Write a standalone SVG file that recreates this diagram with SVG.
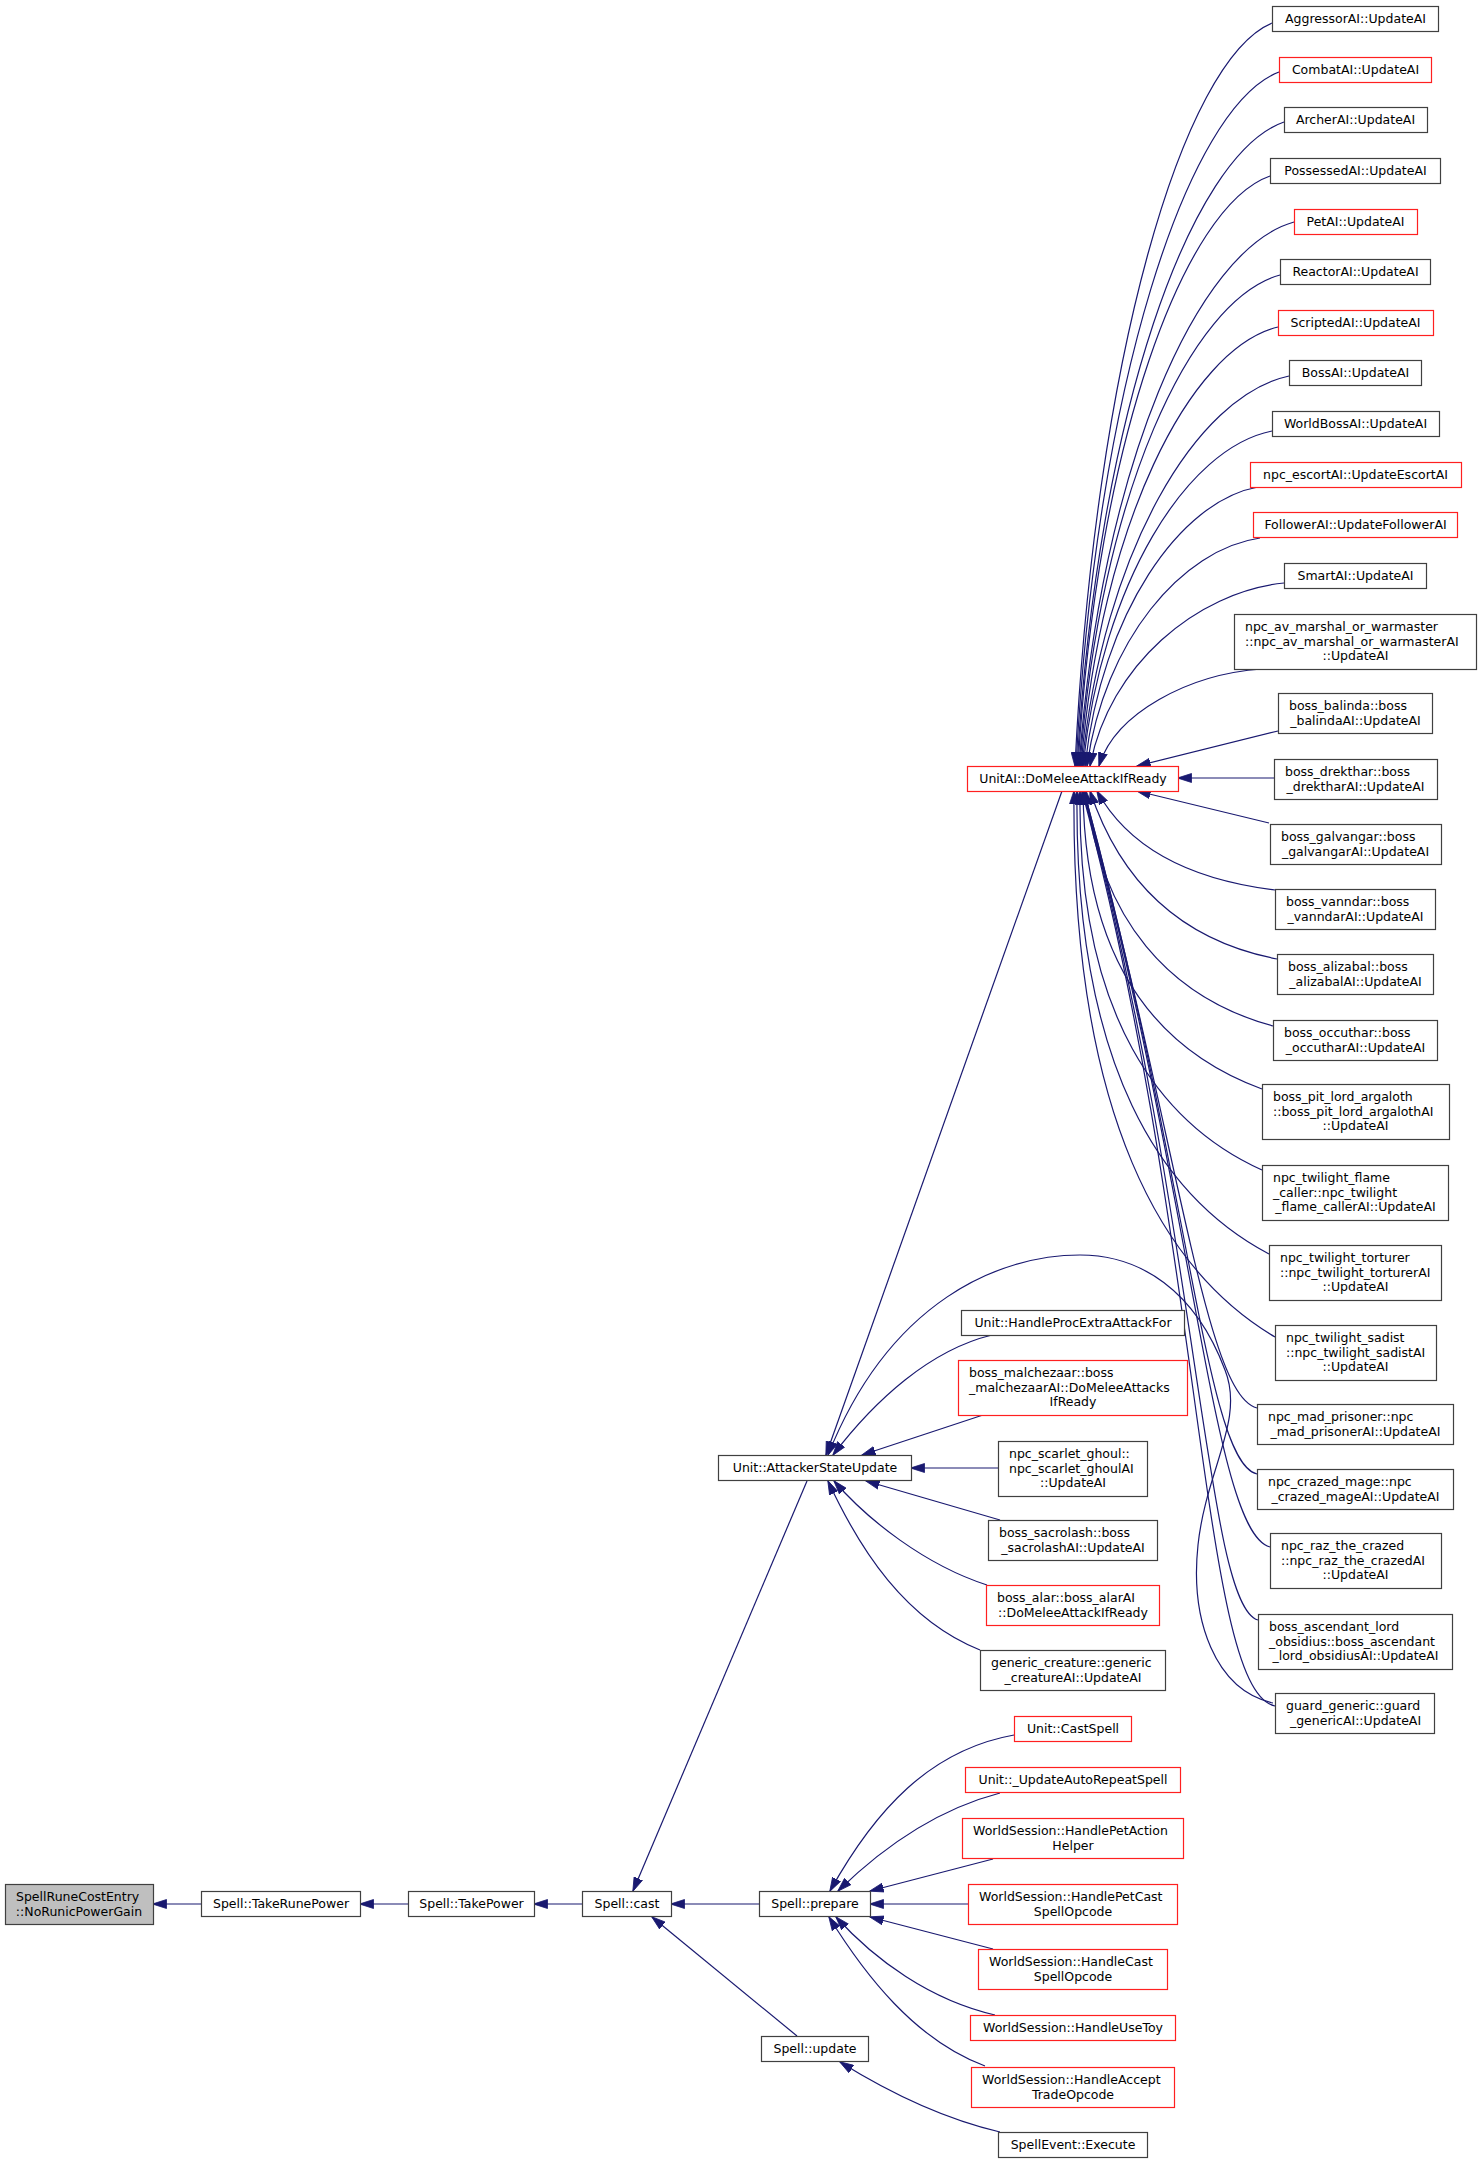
<svg xmlns="http://www.w3.org/2000/svg" width="1481" height="2164" viewBox="0 0 1481 2164">
<style>
.e{fill:none;stroke:#191970;stroke-width:1.2;marker-end:url(#ah)}
.nb rect{fill:#fff;stroke:#404040;stroke-width:1.2}
.nr rect{fill:#fff;stroke:#ff2020;stroke-width:1.2}
.ng rect{fill:#bfbfbf;stroke:#404040;stroke-width:1.2}
text{font-family:"DejaVu Sans","Liberation Sans",sans-serif;font-size:12.5px;fill:#000}
.c{text-anchor:middle}
.s{text-anchor:start}
</style>
<defs>
<marker id="ah" markerUnits="userSpaceOnUse" markerWidth="14" markerHeight="10" viewBox="0 0 14 10" refX="13.5" refY="5" orient="auto">
<path d="M0,0.5 L14,5 L0,9.5 z" fill="#191970" stroke="#191970" stroke-width="0.8"/>
</marker>
</defs>
<rect x="0" y="0" width="1481" height="2164" fill="#fff"/>

<g id="edges">
<path class="e" d="M1272,23 C1183,60 1095,357 1075,766"/>
<path class="e" d="M1279,72 C1188,107 1096,384 1076,766"/>
<path class="e" d="M1284,122 C1191,154 1098,412 1077,766"/>
<path class="e" d="M1270,176 C1184,206 1097,442 1078,766"/>
<path class="e" d="M1294,222 C1197,249 1101,467 1079,766"/>
<path class="e" d="M1280,275 C1190,300 1100,496 1080,766"/>
<path class="e" d="M1278,327 C1189,349 1101,525 1081,766"/>
<path class="e" d="M1289,376 C1196,396 1103,552 1082,766"/>
<path class="e" d="M1272,431 C1187,448 1102,582 1083,766"/>
<path class="e" d="M1258,487 C1180,501 1102,613 1085,766"/>
<path class="e" d="M1260,538 C1182,549 1104,641 1087,766"/>
<path class="e" d="M1284,583 C1197,592 1109,665 1090,766"/>
<path class="e" d="M1262,669 C1189,674 1115,713 1099,766"/>
<path class="e" d="M1278,731 L1137,766"/>
<path class="e" d="M1274,778 L1178,778"/>
<path class="e" d="M1269,823 L1137,791"/>
<path class="e" d="M1275,890 C1177,878 1124,840 1097,791"/>
<path class="e" d="M1277,959 C1174,939 1118,875 1090,791"/>
<path class="e" d="M1273,1026 C1170,998 1100,920 1086,791"/>
<path class="e" d="M1262,1089 C1164,1053 1085,970 1083,791"/>
<path class="e" d="M1262,1170 C1162,1125 1077,1018 1080,791"/>
<path class="e" d="M1269,1254 C1163,1198 1074,1069 1077,791"/>
<path class="e" d="M1275,1337 C1165,1272 1071,1119 1074,791"/>
<path class="e" d="M1257,1408 C1205,1395 1180,1150 1084,791"/>
<path class="e" d="M1257,1474 C1205,1462 1190,1180 1084,791"/>
<path class="e" d="M1270,1547 C1212,1532 1195,1200 1083,791"/>
<path class="e" d="M1258,1620 C1205,1605 1200,1230 1083,791"/>
<path class="e" d="M1275,1706 C1200,1690 1205,1250 1082,791"/>
<path class="e" d="M1273,1703 C1215,1690 1190,1620 1198,1545 C1206,1470 1245,1420 1225,1370 C1195,1290 1140,1255 1080,1255 C1000,1255 890,1300 828,1455"/>
<path class="e" d="M1062,791 L826,1455"/>
<path class="e" d="M992,1335 C930,1350 875,1400 833,1455"/>
<path class="e" d="M983,1415 L862,1455"/>
<path class="e" d="M998,1468 L911,1468"/>
<path class="e" d="M1000,1520 L866,1481"/>
<path class="e" d="M987,1585 C925,1565 868,1520 834,1481"/>
<path class="e" d="M980,1650 C905,1620 860,1550 828,1481"/>
<path class="e" d="M807,1481 L633,1891"/>
<path class="e" d="M797,2036 L652,1917"/>
<path class="e" d="M1000,2132 C940,2118 885,2090 840,2062"/>
<path class="e" d="M1014,1735 C930,1750 875,1810 830,1891"/>
<path class="e" d="M1000,1793 C935,1810 880,1850 838,1891"/>
<path class="e" d="M993,1859 L870,1891"/>
<path class="e" d="M968,1904 L870,1904"/>
<path class="e" d="M993,1949 L870,1917"/>
<path class="e" d="M995,2015 C930,2000 875,1960 836,1917"/>
<path class="e" d="M985,2066 C915,2040 865,1975 829,1917"/>
<path class="e" d="M759,1904 L671,1904"/>
<path class="e" d="M582,1904 L534,1904"/>
<path class="e" d="M408,1904 L360,1904"/>
<path class="e" d="M201,1904 L153,1904"/>
</g>

<g id="n_root" class="ng"><rect x="5.5" y="1884.5" width="148" height="40"/><text class="s" x="16" y="1901">SpellRuneCostEntry</text><text class="c" x="79" y="1915.5">::NoRunicPowerGain</text></g>
<g id="n_takerunepower" class="nb"><rect x="201.5" y="1891.5" width="159" height="25"/><text class="c" x="281" y="1908.3">Spell::TakeRunePower</text></g>
<g id="n_takepower" class="nb"><rect x="408.5" y="1891.5" width="126" height="25"/><text class="c" x="471.5" y="1908.3">Spell::TakePower</text></g>
<g id="n_cast" class="nb"><rect x="582.5" y="1891.5" width="89" height="25"/><text class="c" x="627" y="1908.3">Spell::cast</text></g>

<g id="n_asu" class="nb"><rect x="718.5" y="1455.5" width="193" height="25"/><text class="c" x="815" y="1472.3">Unit::AttackerStateUpdate</text></g>
<g id="n_prepare" class="nb"><rect x="759.5" y="1891.5" width="111" height="25"/><text class="c" x="815" y="1908.3">Spell::prepare</text></g>
<g id="n_update" class="nb"><rect x="761.5" y="2036.5" width="107" height="25"/><text class="c" x="815" y="2053.3">Spell::update</text></g>

<g id="n_unitai" class="nr"><rect x="967.5" y="766.5" width="211" height="25"/><text class="c" x="1073" y="783.3">UnitAI::DoMeleeAttackIfReady</text></g>
<g id="n_procextra" class="nb"><rect x="961.5" y="1310.5" width="223" height="25"/><text class="c" x="1073" y="1327.3">Unit::HandleProcExtraAttackFor</text></g>
<g id="n_malchezaar" class="nr"><rect x="958.5" y="1360.5" width="229" height="55"/><text class="s" x="969" y="1377.3">boss_malchezaar::boss</text><text class="s" x="969" y="1391.8">_malchezaarAI::DoMeleeAttacks</text><text class="c" x="1073" y="1406.3">IfReady</text></g>
<g id="n_scarlet" class="nb"><rect x="998.5" y="1441.5" width="149" height="55"/><text class="s" x="1009" y="1458.3">npc_scarlet_ghoul::</text><text class="s" x="1009" y="1472.8">npc_scarlet_ghoulAI</text><text class="c" x="1073" y="1487.3">::UpdateAI</text></g>
<g id="n_sacrolash" class="nb"><rect x="988.5" y="1520.5" width="169" height="40"/><text class="s" x="999" y="1537">boss_sacrolash::boss</text><text class="c" x="1073" y="1551.5">_sacrolashAI::UpdateAI</text></g>
<g id="n_alar" class="nr"><rect x="986.5" y="1585.5" width="173" height="40"/><text class="s" x="997" y="1602">boss_alar::boss_alarAI</text><text class="c" x="1073" y="1616.5">::DoMeleeAttackIfReady</text></g>
<g id="n_generic" class="nb"><rect x="980.5" y="1650.5" width="185" height="40"/><text class="s" x="991" y="1667">generic_creature::generic</text><text class="c" x="1073" y="1681.5">_creatureAI::UpdateAI</text></g>
<g id="n_castspell" class="nr"><rect x="1014.5" y="1716.5" width="117" height="25"/><text class="c" x="1073" y="1733.3">Unit::CastSpell</text></g>
<g id="n_autorepeat" class="nr"><rect x="965.5" y="1767.5" width="215" height="25"/><text class="c" x="1073" y="1784.3">Unit::_UpdateAutoRepeatSpell</text></g>
<g id="n_petaction" class="nr"><rect x="962.5" y="1818.5" width="221" height="40"/><text class="s" x="973" y="1835.3">WorldSession::HandlePetAction</text><text class="c" x="1073" y="1849.8">Helper</text></g>
<g id="n_petcast" class="nr"><rect x="968.5" y="1884.5" width="209" height="40"/><text class="s" x="979" y="1901">WorldSession::HandlePetCast</text><text class="c" x="1073" y="1915.5">SpellOpcode</text></g>
<g id="n_castop" class="nr"><rect x="978.5" y="1949.5" width="189" height="40"/><text class="s" x="989" y="1966">WorldSession::HandleCast</text><text class="c" x="1073" y="1980.5">SpellOpcode</text></g>
<g id="n_usetoy" class="nr"><rect x="970.5" y="2015.5" width="205" height="25"/><text class="c" x="1073" y="2032.3">WorldSession::HandleUseToy</text></g>
<g id="n_accepttrade" class="nr"><rect x="971.5" y="2067.5" width="203" height="40"/><text class="s" x="982" y="2084">WorldSession::HandleAccept</text><text class="c" x="1073" y="2098.5">TradeOpcode</text></g>
<g id="n_spellevent" class="nb"><rect x="998.5" y="2132.5" width="149" height="25"/><text class="c" x="1073" y="2149.3">SpellEvent::Execute</text></g>

<g id="n_aggressor" class="nb"><rect x="1272.5" y="6.5" width="166" height="25"/><text class="c" x="1355.5" y="23.3">AggressorAI::UpdateAI</text></g>
<g id="n_combat" class="nr"><rect x="1279.5" y="57.5" width="152" height="25"/><text class="c" x="1355.5" y="74.3">CombatAI::UpdateAI</text></g>
<g id="n_archer" class="nb"><rect x="1284.5" y="107.5" width="143" height="25"/><text class="c" x="1355.5" y="124.3">ArcherAI::UpdateAI</text></g>
<g id="n_possessed" class="nb"><rect x="1270.5" y="158.5" width="170" height="25"/><text class="c" x="1355.5" y="175.3">PossessedAI::UpdateAI</text></g>
<g id="n_pet" class="nr"><rect x="1294.5" y="209.5" width="123" height="25"/><text class="c" x="1355.5" y="226.3">PetAI::UpdateAI</text></g>
<g id="n_reactor" class="nb"><rect x="1280.5" y="259.5" width="150" height="25"/><text class="c" x="1355.5" y="276.3">ReactorAI::UpdateAI</text></g>
<g id="n_scripted" class="nr"><rect x="1278.5" y="310.5" width="155" height="25"/><text class="c" x="1355.5" y="327.3">ScriptedAI::UpdateAI</text></g>
<g id="n_boss" class="nb"><rect x="1289.5" y="360.5" width="132" height="25"/><text class="c" x="1355.5" y="377.3">BossAI::UpdateAI</text></g>
<g id="n_worldboss" class="nb"><rect x="1272.5" y="411.5" width="167" height="25"/><text class="c" x="1355.5" y="428.3">WorldBossAI::UpdateAI</text></g>
<g id="n_escort" class="nr"><rect x="1250.5" y="462.5" width="211" height="25"/><text class="c" x="1355.5" y="479.3">npc_escortAI::UpdateEscortAI</text></g>
<g id="n_follower" class="nr"><rect x="1253.5" y="512.5" width="204" height="25"/><text class="c" x="1355.5" y="529.3">FollowerAI::UpdateFollowerAI</text></g>
<g id="n_smart" class="nb"><rect x="1284.5" y="563.5" width="142" height="25"/><text class="c" x="1355.5" y="580.3">SmartAI::UpdateAI</text></g>
<g id="n_avmarshal" class="nb"><rect x="1234.5" y="614.5" width="242" height="55"/><text class="s" x="1245" y="631.3">npc_av_marshal_or_warmaster</text><text class="s" x="1245" y="645.8">::npc_av_marshal_or_warmasterAI</text><text class="c" x="1355.5" y="660.3">::UpdateAI</text></g>
<g id="n_balinda" class="nb"><rect x="1278.5" y="693.5" width="154" height="40"/><text class="s" x="1289" y="710">boss_balinda::boss</text><text class="c" x="1355.5" y="724.5">_balindaAI::UpdateAI</text></g>
<g id="n_drekthar" class="nb"><rect x="1274.5" y="759.5" width="163" height="40"/><text class="s" x="1285" y="776">boss_drekthar::boss</text><text class="c" x="1355.5" y="790.5">_drektharAI::UpdateAI</text></g>
<g id="n_galvangar" class="nb"><rect x="1270.5" y="824.5" width="171" height="40"/><text class="s" x="1281" y="841">boss_galvangar::boss</text><text class="c" x="1355.5" y="855.5">_galvangarAI::UpdateAI</text></g>
<g id="n_vanndar" class="nb"><rect x="1275.5" y="889.5" width="160" height="40"/><text class="s" x="1286" y="906">boss_vanndar::boss</text><text class="c" x="1355.5" y="920.5">_vanndarAI::UpdateAI</text></g>
<g id="n_alizabal" class="nb"><rect x="1277.5" y="954.5" width="156" height="40"/><text class="s" x="1288" y="971">boss_alizabal::boss</text><text class="c" x="1355.5" y="985.5">_alizabalAI::UpdateAI</text></g>
<g id="n_occuthar" class="nb"><rect x="1273.5" y="1020.5" width="164" height="40"/><text class="s" x="1284" y="1037">boss_occuthar::boss</text><text class="c" x="1355.5" y="1051.5">_occutharAI::UpdateAI</text></g>
<g id="n_pitlord" class="nb"><rect x="1262.5" y="1084.5" width="187" height="55"/><text class="s" x="1273" y="1101.3">boss_pit_lord_argaloth</text><text class="s" x="1273" y="1115.8">::boss_pit_lord_argalothAI</text><text class="c" x="1355.5" y="1130.3">::UpdateAI</text></g>
<g id="n_flame" class="nb"><rect x="1262.5" y="1165.5" width="186" height="55"/><text class="s" x="1273" y="1182.3">npc_twilight_flame</text><text class="s" x="1273" y="1196.8">_caller::npc_twilight</text><text class="c" x="1355.5" y="1211.3">_flame_callerAI::UpdateAI</text></g>
<g id="n_torturer" class="nb"><rect x="1269.5" y="1245.5" width="172" height="55"/><text class="s" x="1280" y="1262.3">npc_twilight_torturer</text><text class="s" x="1280" y="1276.8">::npc_twilight_torturerAI</text><text class="c" x="1355.5" y="1291.3">::UpdateAI</text></g>
<g id="n_sadist" class="nb"><rect x="1275.5" y="1325.5" width="161" height="55"/><text class="s" x="1286" y="1342.3">npc_twilight_sadist</text><text class="s" x="1286" y="1356.8">::npc_twilight_sadistAI</text><text class="c" x="1355.5" y="1371.3">::UpdateAI</text></g>
<g id="n_madprisoner" class="nb"><rect x="1257.5" y="1404.5" width="196" height="40"/><text class="s" x="1268" y="1421">npc_mad_prisoner::npc</text><text class="c" x="1355.5" y="1435.5">_mad_prisonerAI::UpdateAI</text></g>
<g id="n_crazedmage" class="nb"><rect x="1257.5" y="1469.5" width="196" height="40"/><text class="s" x="1268" y="1486">npc_crazed_mage::npc</text><text class="c" x="1355.5" y="1500.5">_crazed_mageAI::UpdateAI</text></g>
<g id="n_raz" class="nb"><rect x="1270.5" y="1533.5" width="171" height="55"/><text class="s" x="1281" y="1550.3">npc_raz_the_crazed</text><text class="s" x="1281" y="1564.8">::npc_raz_the_crazedAI</text><text class="c" x="1355.5" y="1579.3">::UpdateAI</text></g>
<g id="n_ascendant" class="nb"><rect x="1258.5" y="1614.5" width="194" height="55"/><text class="s" x="1269" y="1631.3">boss_ascendant_lord</text><text class="s" x="1269" y="1645.8">_obsidius::boss_ascendant</text><text class="c" x="1355.5" y="1660.3">_lord_obsidiusAI::UpdateAI</text></g>
<g id="n_guard" class="nb"><rect x="1275.5" y="1693.5" width="159" height="40"/><text class="s" x="1286" y="1710">guard_generic::guard</text><text class="c" x="1355.5" y="1724.5">_genericAI::UpdateAI</text></g>
</svg>
